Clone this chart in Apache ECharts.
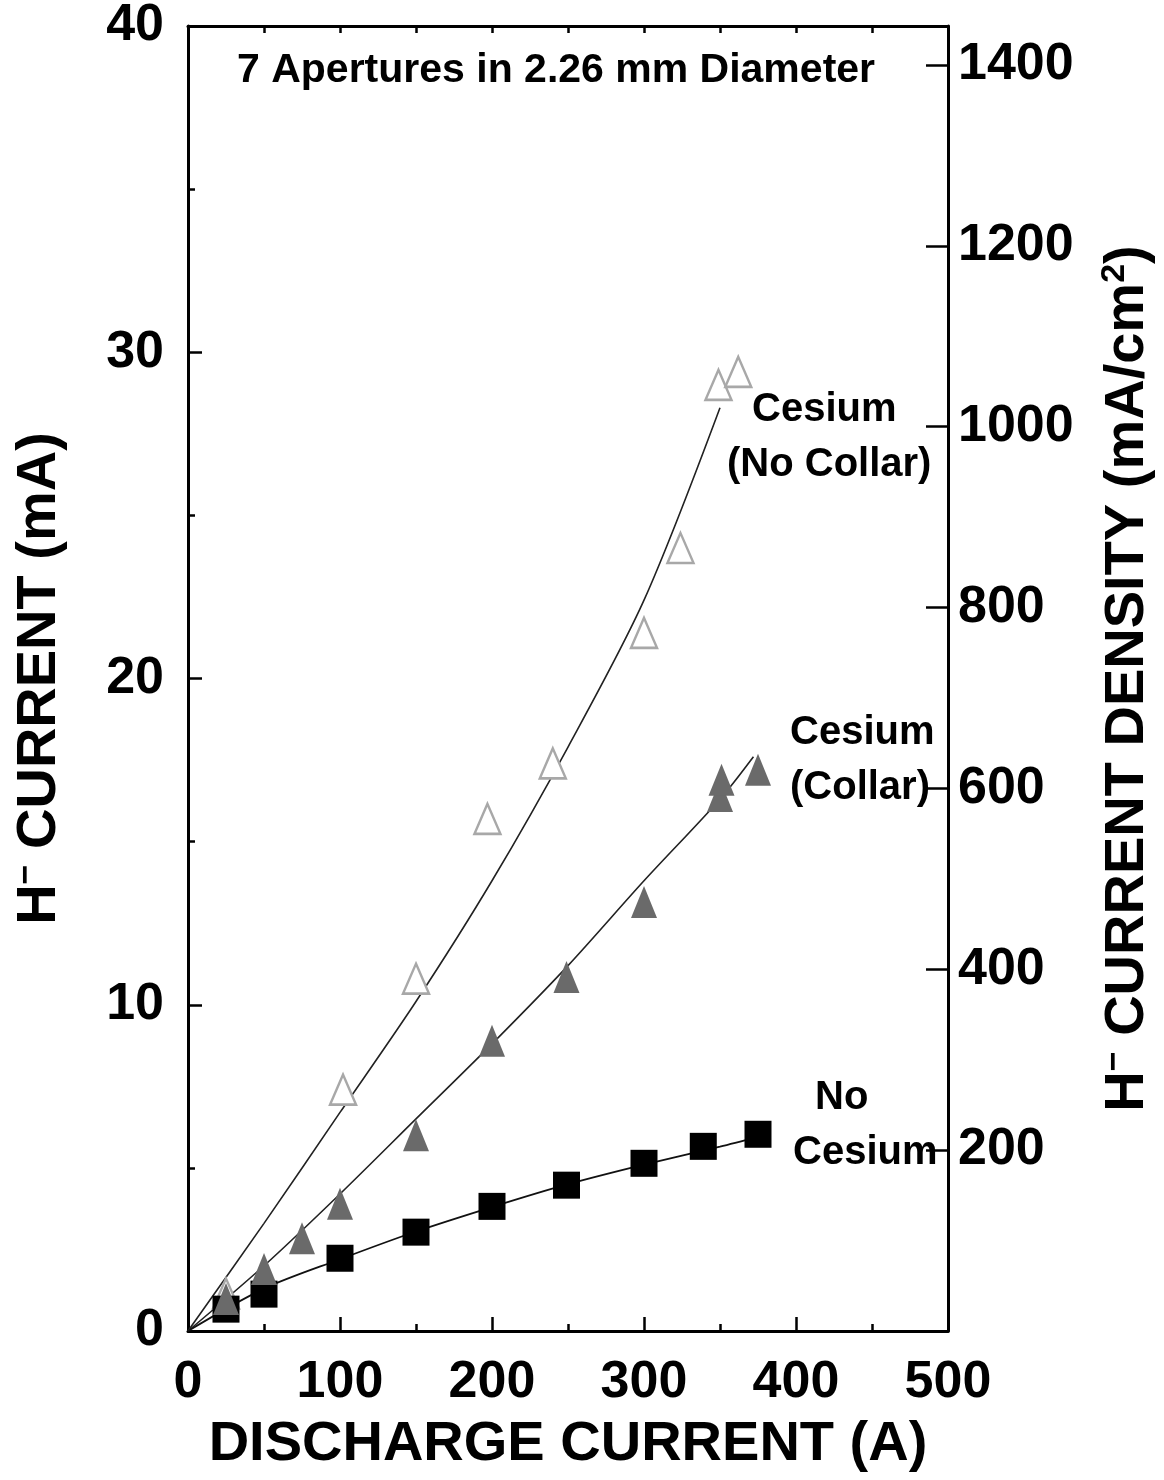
<!DOCTYPE html>
<html>
<head>
<meta charset="utf-8">
<script src="https://cdn.jsdelivr.net/npm/echarts@6/dist/echarts.min.js"></script>
<style>html,body{margin:0;padding:0;background:#fff}#c{width:1164px;height:1480px}</style>
</head>
<body>
<div id="c"></div>
<script>
// ---- data ----
const xNoCs = [25, 50, 100, 150, 200, 249, 300, 339, 375];
const yNoCs = [0.67, 1.13, 2.23, 3.03, 3.82, 4.47, 5.14, 5.66, 6.03];

const xCollar = [25, 50, 75, 100, 150, 200, 249, 300, 350, 351, 375];
const yCollar = [0.98, 1.9, 2.84, 3.9, 6.0, 8.9, 10.85, 13.15, 16.4, 16.9, 17.2];

const xNoCollar = [25, 102, 150, 197, 240, 300, 324, 349, 362];
const yNoCollar = [1.15, 7.4, 10.8, 15.7, 17.4, 21.4, 24.0, 29.0, 29.4];

const fitNoCollarX = [0, 50, 100, 150, 200, 250, 300, 350];
const fitNoCollarY = [0, 3.3, 6.7, 10.1, 13.8, 17.9, 22.4, 28.3];
const fitCollarX = [0, 50, 100, 150, 200, 250, 300, 350, 372];
const fitCollarY = [0, 2.0, 4.2, 6.5, 8.8, 11.2, 13.8, 16.3, 17.6];
const fitNoCsX = [0, 50, 100, 150, 200, 250, 300, 350, 375];
const fitNoCsY = [0, 1.3, 2.2, 3.05, 3.8, 4.5, 5.1, 5.65, 5.95];

const densityTicks = [200, 400, 600, 800, 1000, 1200, 1400];
const densityMax = 1443;

const title = '7 Apertures in 2.26 mm Diameter';
const labels = [
  {text: 'Cesium', x: 752, y: 410},
  {text: '(No Collar)', x: 727, y: 465},
  {text: 'Cesium', x: 790, y: 733},
  {text: '(Collar)', x: 790, y: 788},
  {text: 'No', x: 815, y: 1098},
  {text: 'Cesium', x: 793, y: 1153}
];

const zip = (a, b) => a.map((v, i) => [v, b[i]]);
const FONT = '"Liberation Sans", Arial, Helvetica, sans-serif';
const black = '#000';

const chart = echarts.init(document.getElementById('c'), null, {renderer: 'canvas'});

const axisLineStyle = {show: true, onZero: false, lineStyle: {color: black, width: 3}};
const labelStyle = {color: black, fontSize: 52, fontWeight: 'bold', fontFamily: FONT, formatter: v => String(v)};
const nameStyleBase = {color: black, fontSize: 56, fontWeight: 'bold', fontFamily: FONT};
const richName = {
  sup: {fontSize: 34, fontWeight: 'bold', fontFamily: FONT, color: black, padding: [0, 0, 26, 0]}
};

chart.setOption({
  animation: false,
  backgroundColor: '#fff',
  grid: {left: 188, right: 209, top: 24, bottom: 149, containLabel: false},
  xAxis: [
    {
      type: 'value', min: 0, max: 500, interval: 100, position: 'bottom',
      axisLine: axisLineStyle,
      axisTick: {show: true, inside: true, length: 14, lineStyle: {color: black, width: 2.5}},
      minorTick: {show: true, splitNumber: 2, length: 7, lineStyle: {color: black, width: 2.5}},
      splitLine: {show: false},
      axisLabel: Object.assign({margin: 26}, labelStyle),
      name: 'DISCHARGE CURRENT (A)', nameLocation: 'middle', nameGap: 86,
      nameTextStyle: nameStyleBase
    },
    {
      type: 'value', min: 0, max: 500, interval: 50, position: 'top',
      axisLine: axisLineStyle,
      axisTick: {show: true, inside: true, length: 7, lineStyle: {color: black, width: 2.5}},
      splitLine: {show: false},
      axisLabel: {show: false}
    }
  ],
  yAxis: [
    {
      type: 'value', min: 0, max: 40, interval: 10, position: 'left',
      axisLine: axisLineStyle,
      axisTick: {show: true, inside: true, length: 14, lineStyle: {color: black, width: 2.5}},
      minorTick: {show: true, splitNumber: 2, length: 7, lineStyle: {color: black, width: 2.5}},
      splitLine: {show: false},
      axisLabel: Object.assign({margin: 24}, labelStyle),
      name: 'H{sup|\u2212} CURRENT (mA)',
      nameLocation: 'middle', nameRotate: 90, nameGap: 118,
      nameTextStyle: Object.assign({rich: richName}, nameStyleBase)
    },
    {
      type: 'value', min: 0, max: densityMax, position: 'right',
      axisLine: axisLineStyle,
      axisTick: {show: true, inside: true, length: 22, customValues: densityTicks, lineStyle: {color: black, width: 2.5}},
      splitLine: {show: false},
      axisLabel: Object.assign({margin: 10, customValues: densityTicks}, labelStyle),
      name: 'H{sup|\u2212} CURRENT DENSITY (mA/cm{sup|2})',
      nameLocation: 'middle', nameRotate: 90, nameGap: 150,
      nameTextStyle: Object.assign({rich: richName}, nameStyleBase)
    }
  ],
  graphic: [
    {type: 'text', left: 237, top: 50, style: {text: title, font: 'bold 41px ' + FONT, fill: black}}
  ].concat(labels.map(l => ({
    type: 'text', x: l.x, y: l.y,
    style: {text: l.text, font: 'bold 40px ' + FONT, fill: black, textVerticalAlign: 'middle'}
  }))),
  series: [
    {type: 'line', data: zip(fitNoCollarX, fitNoCollarY), smooth: 0.3, showSymbol: false, symbol: 'none',
     lineStyle: {color: '#222', width: 1.6}, z: 2},
    {type: 'line', data: zip(fitCollarX, fitCollarY), smooth: 0.3, showSymbol: false, symbol: 'none',
     lineStyle: {color: '#222', width: 1.6}, z: 2},
    {type: 'line', data: zip(fitNoCsX, fitNoCsY), smooth: 0.3, showSymbol: false, symbol: 'none',
     lineStyle: {color: '#111', width: 1.8}, z: 2},
    {type: 'scatter', name: 'Cesium (No Collar)', data: zip(xNoCollar, yNoCollar), symbol: 'triangle',
     symbolSize: [26, 30], itemStyle: {color: '#fff', borderColor: '#a8a8a8', borderWidth: 2.5, opacity: 1}, z: 3},
    {type: 'scatter', name: 'No Cesium', data: zip(xNoCs, yNoCs), symbol: 'rect',
     symbolSize: 27, itemStyle: {color: '#000', opacity: 1}, z: 4},
    {type: 'scatter', name: 'Cesium (Collar)', data: zip(xCollar, yCollar), symbol: 'triangle',
     symbolSize: [26, 32], itemStyle: {color: '#6a6a6a', opacity: 1}, z: 5}
  ]
});
</script>
</body>
</html>
